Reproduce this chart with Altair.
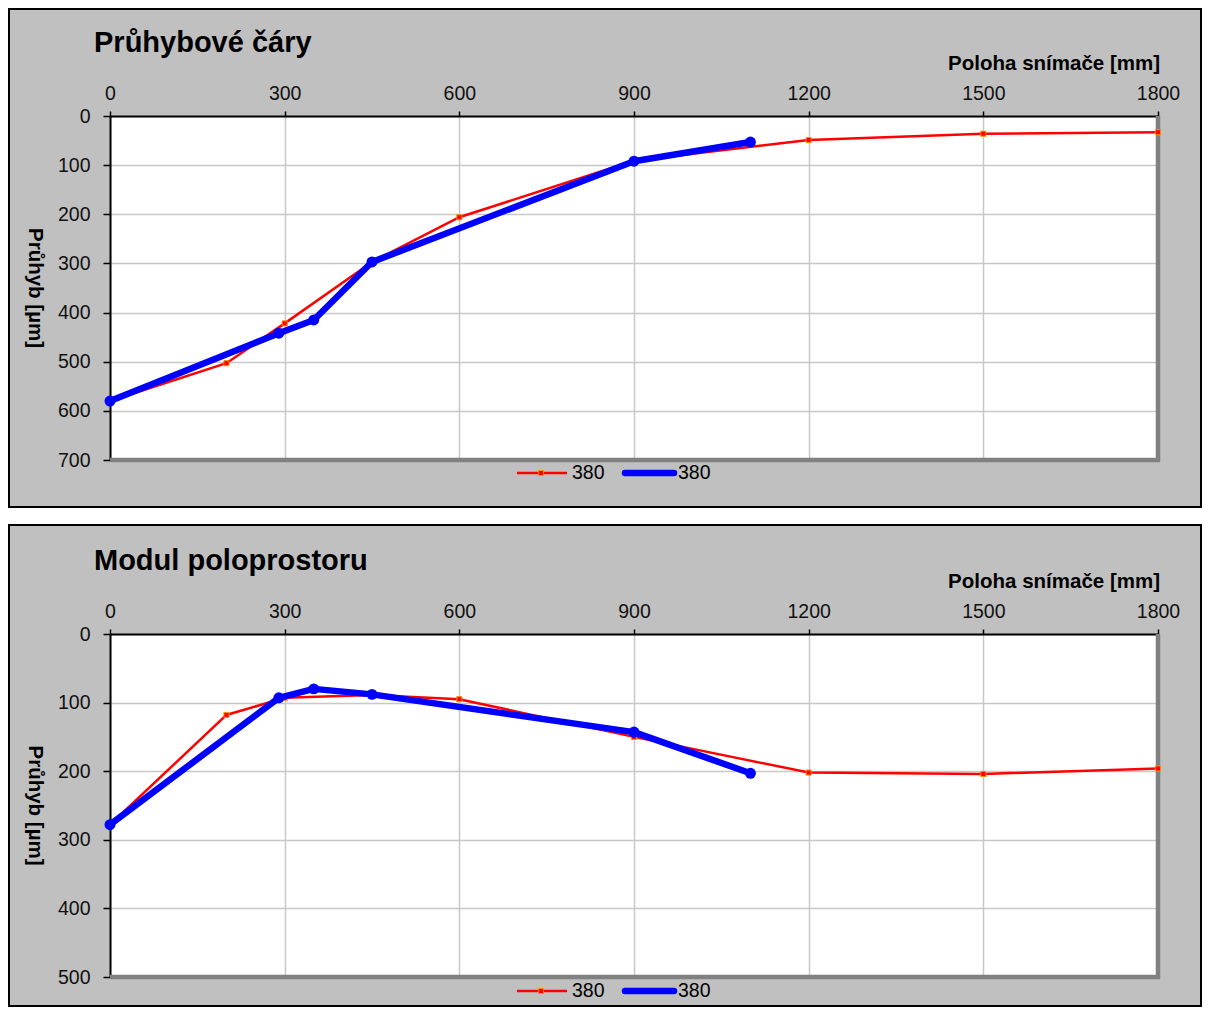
import altair as alt
import pandas as pd

# ---------------- data ----------------
x_red = [0, 200, 300, 450, 600, 900, 1200, 1500, 1800]
y_red_top = [580, 503, 422, 297, 206, 91, 49, 36, 33]
y_red_bot = [278, 118, 93, 89, 95, 150, 202, 204, 196]

x_blue = [0, 290, 350, 450, 900, 1100]
y_blue_top = [580, 442, 415, 297, 92, 53]
y_blue_bot = [278, 93, 80, 88, 143, 203]

x_ticks = [0, 300, 600, 900, 1200, 1500, 1800]
y_ticks_top = [0, 100, 200, 300, 400, 500, 600, 700]
y_ticks_bot = [0, 100, 200, 300, 400, 500]

title_top = "Průhybové čáry"
title_bot = "Modul poloprostoru"
x_title = "Poloha snímače [mm]"
y_title = "Průhyb [µm]"
legend_red = "380"
legend_blue = "380"

# ---------------- styling ----------------
F = "Liberation Sans"
W = 1048
RED = "#ff0000"
BLUE = "#0000ff"
GRID = "#c8c8c8"
TICK_FS = 19.5
dummy = pd.DataFrame({"a": [0]})


def txt(text, x, y, size, bold=False, align="left", baseline="alphabetic", angle=0):
    kw = dict(text=text, align=align, baseline=baseline, fontSize=size,
              font=F, color="black", fontWeight="bold" if bold else "normal")
    if angle:
        kw["angle"] = angle
    return alt.Chart(dummy).mark_text(**kw).encode(x=alt.value(x), y=alt.value(y))


def panel(title, title_y, y_red, y_blue, ymax, yticks, H, box_top, box_bottom, gap):
    red = pd.DataFrame({"x": x_red, "y": y_red})
    blue = pd.DataFrame({"x": x_blue, "y": y_blue})
    xenc = alt.X("x:Q",
                 scale=alt.Scale(domain=[0, 1800], nice=False, zero=False),
                 axis=alt.Axis(orient="top", values=x_ticks, title=None, grid=True,
                               gridColor=GRID, gridWidth=1.5, domainColor="black",
                               domainWidth=2, tickColor="black", tickSize=5, tickWidth=1.5,
                               labelPadding=8, labelFontSize=TICK_FS, labelFont=F,
                               labelColor="#111111", labelFlush=False, labelOverlap=False,
                               format="d"))
    yenc = alt.Y("y:Q",
                 scale=alt.Scale(domain=[0, ymax], reverse=True, nice=False, zero=False),
                 axis=alt.Axis(values=yticks, title=None, grid=True, gridColor=GRID,
                               gridWidth=1.5, domainColor="black", domainWidth=2,
                               tickColor="black", tickSize=7, tickWidth=1.5,
                               labelPadding=13, labelFontSize=TICK_FS, labelFont=F,
                               labelColor="#111111", labelOverlap=False, format="d"))
    base_red = alt.Chart(red).encode(x=xenc, y=yenc)
    base_blue = alt.Chart(blue).encode(x=xenc, y=yenc)

    layers = [
        # panel frame (outer border)
        alt.Chart(dummy).mark_rect(fill="transparent", stroke="black", strokeWidth=2).encode(
            x=alt.value(-101), x2=alt.value(1091), y=alt.value(box_top), y2=alt.value(box_bottom)),
        # plot-area shadow on right and bottom
        alt.Chart(dummy).mark_rule(color="#808080", strokeWidth=4.5).encode(
            x=alt.value(W), y=alt.value(0), y2=alt.value(H + 2)),
        alt.Chart(dummy).mark_rule(color="#808080", strokeWidth=4.5).encode(
            y=alt.value(H), x=alt.value(0), x2=alt.value(W + 2)),
        # data
        base_red.mark_line(color=RED, strokeWidth=2.5),
        base_red.mark_square(size=26, fill=RED, stroke="#ff9000", strokeWidth=1, opacity=1),
        base_blue.mark_line(color=BLUE, strokeWidth=6.5, strokeJoin="round", strokeCap="round"),
        base_blue.mark_circle(size=120, color=BLUE, opacity=1),
        # texts
        txt(title, -16, title_y, 29, bold=True),
        txt(x_title, W + 2, -46, 20.5, bold=True, align="right"),
        txt(y_title, -75, H / 2, 20.5, bold=True, align="center", baseline="middle", angle=90),
        # legend
        alt.Chart(dummy).mark_rule(color=RED, strokeWidth=2.5).encode(
            x=alt.value(407), x2=alt.value(457), y=alt.value(357)),
        alt.Chart(dummy).mark_square(size=26, fill=RED, stroke="#ff9000", strokeWidth=1, opacity=1).encode(
            x=alt.value(431), y=alt.value(357)),
        txt(legend_red, 462, 357, 19.5, baseline="middle"),
        alt.Chart(dummy).mark_rule(color=BLUE, strokeWidth=6.5, strokeCap="round").encode(
            x=alt.value(515), x2=alt.value(564), y=alt.value(357)),
        txt(legend_blue, 568, 357, 19.5, baseline="middle"),
    ]
    if gap:
        layers.insert(0, alt.Chart(dummy).mark_rect(fill="white").encode(
            x=alt.value(-102), x2=alt.value(1092), y=alt.value(box_bottom + 1),
            y2=alt.value(box_bottom + 17)))
    return alt.layer(*layers).properties(width=W, height=H)


top = panel(title_top, -64, y_red_top, y_blue_top, 700, y_ticks_top, 344, -107, 391, True)
bot = panel(title_bot, -64, y_red_bot, y_blue_bot, 500, y_ticks_bot, 343, -109, 372, False)

chart = alt.vconcat(top, bot, spacing=0, padding=0, background="#c0c0c0").configure_view(
    fill="white", strokeWidth=0)

chart.save("out.html", embed_options={"renderer": "svg", "actions": False})
